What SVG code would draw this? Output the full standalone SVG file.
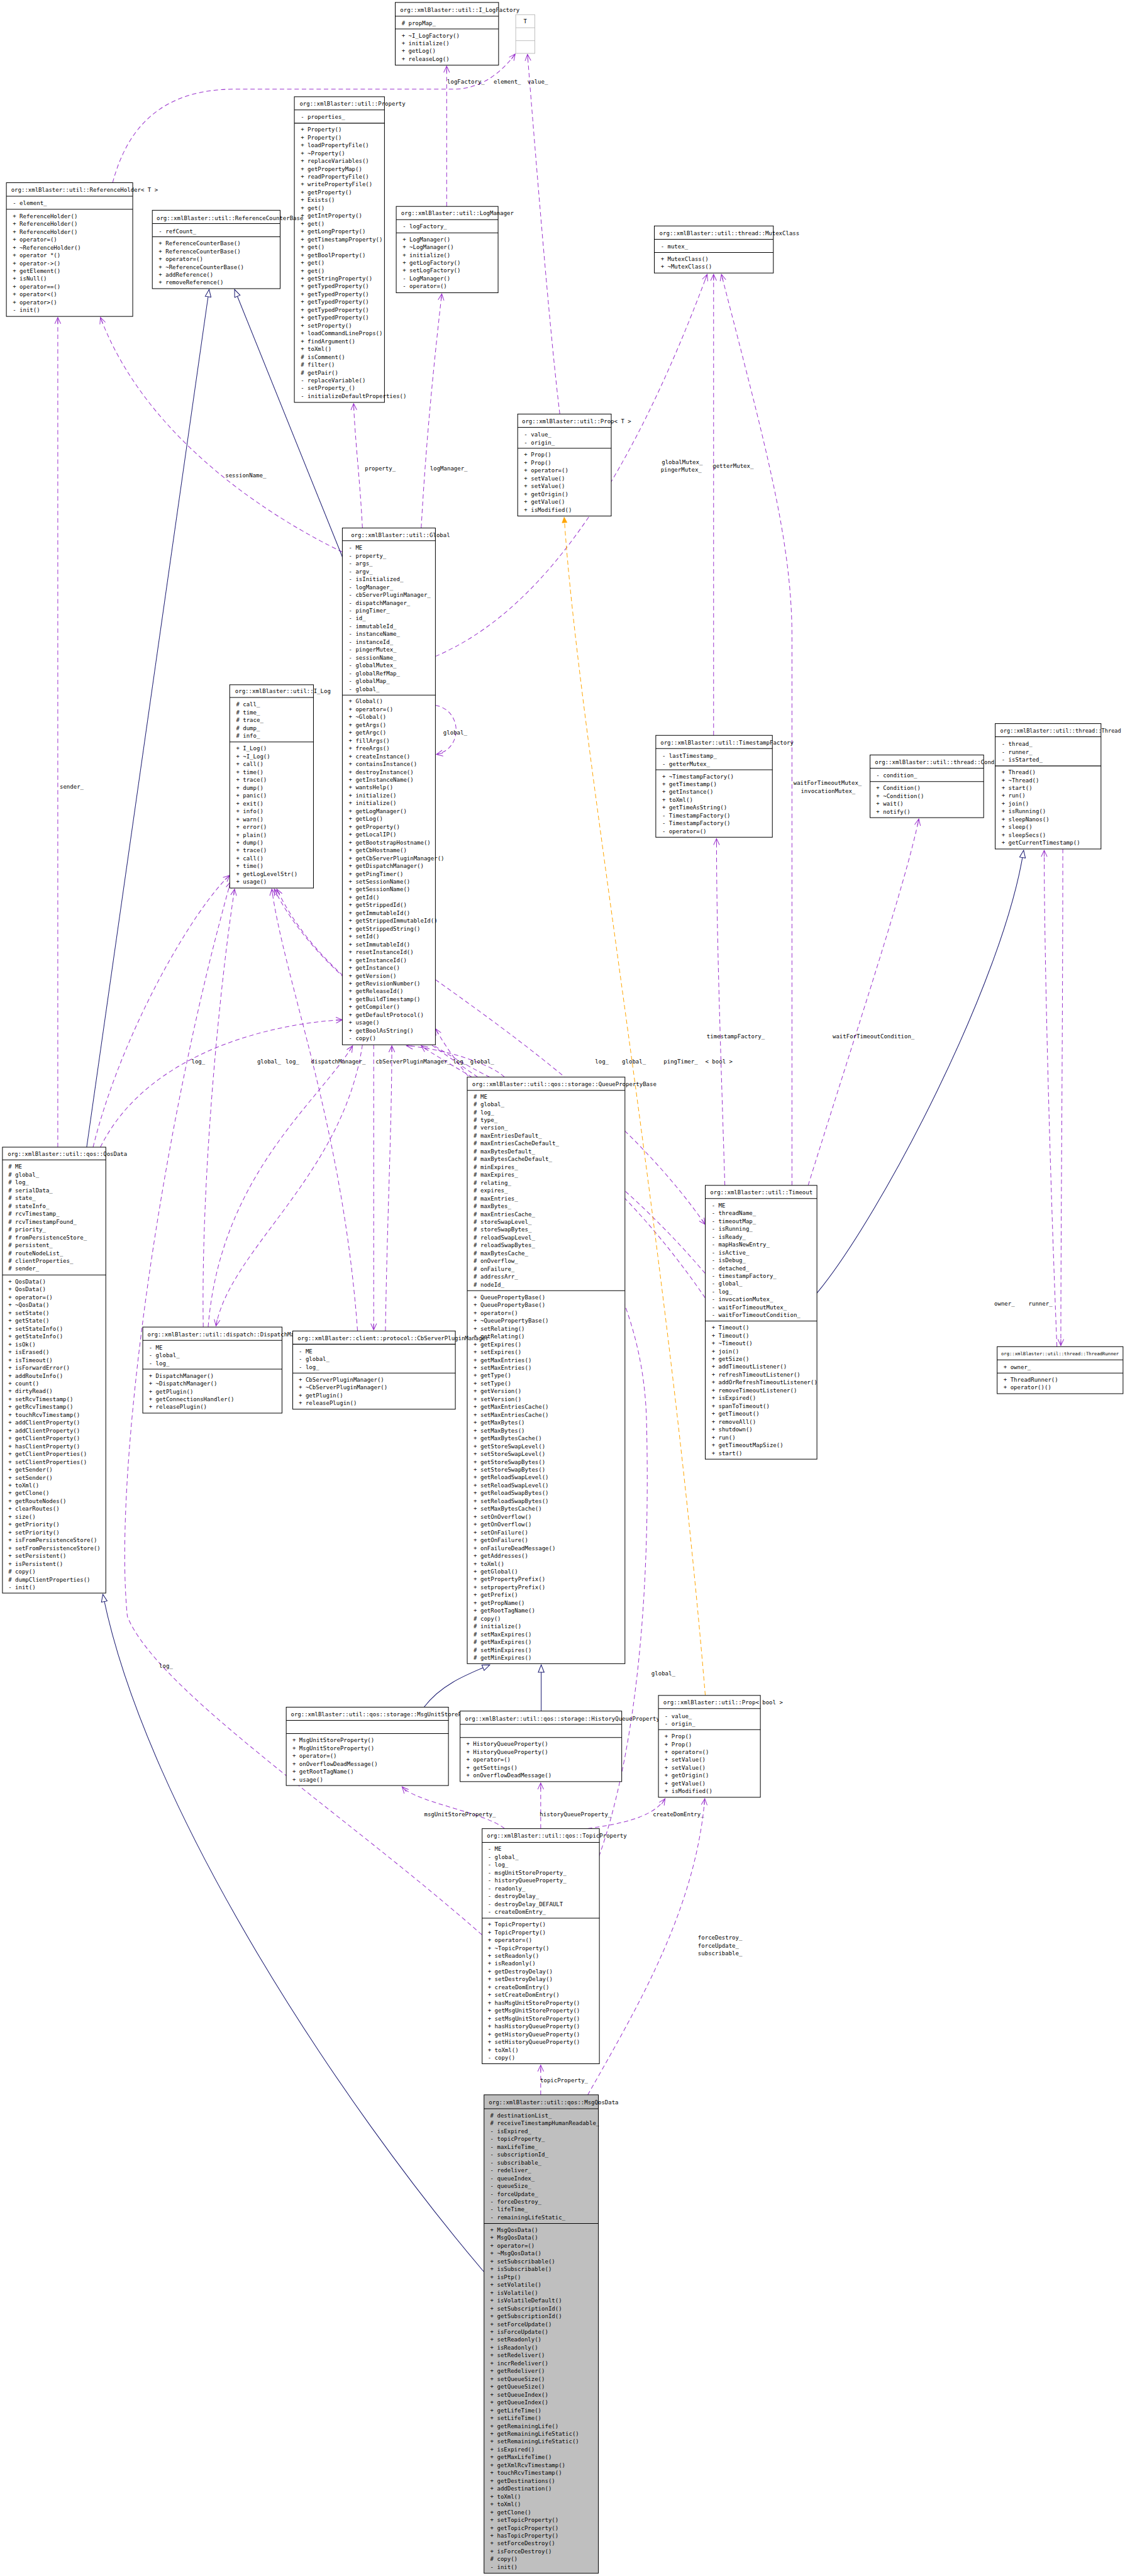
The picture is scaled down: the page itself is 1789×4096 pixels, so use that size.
<svg xmlns="http://www.w3.org/2000/svg" width="1789" height="4096" viewBox="0 0 1789 4096">
<style>
.box{fill:#fff;stroke:#000;stroke-width:1.3}
.gray{fill:#bfbfbf;stroke:#000;stroke-width:1.3}
.tbox{fill:#fff;stroke:#bfbfbf;stroke-width:1.3}
.sep{stroke:#000;stroke-width:1.3}
.tsep{stroke:#bfbfbf;stroke-width:1.3}
text{font-family:"DejaVu Sans Mono","Liberation Mono",monospace;font-size:11.6px;fill:#000}
.use{fill:none;stroke:#9a32cd;stroke-width:1.3;stroke-dasharray:9,6;marker-end:url(#vee)}
.inh{fill:none;stroke:#191970;stroke-width:1.3;marker-end:url(#tri)}
.tpl{fill:none;stroke:#ffa500;stroke-width:1.3;stroke-dasharray:9,6;marker-end:url(#otri)}
</style>
<defs>
<marker id="vee" markerUnits="userSpaceOnUse" markerWidth="16" markerHeight="14" refX="14" refY="7" orient="auto"><path d="M1,1 L14,7 L1,13 M1,7 L14,7" fill="none" stroke="#9a32cd" stroke-width="1.3"/></marker>
<marker id="tri" markerUnits="userSpaceOnUse" markerWidth="18" markerHeight="14" refX="16" refY="7" orient="auto"><path d="M1,1 L16,7 L1,13 Z" fill="#fff" stroke="#191970" stroke-width="1.3"/></marker>
<marker id="otri" markerUnits="userSpaceOnUse" markerWidth="14" markerHeight="12" refX="12" refY="6" orient="auto"><path d="M1,1 L12,6 L1,11 Z" fill="#ffa500" stroke="#ffa500"/></marker>
</defs>
<rect width="1789" height="4096" fill="#fff"/>
<g transform="scale(0.77884)">
<g id="connectors">
<path class="use" d="M912,421 L912,135"/>
<path class="use" d="M230,373 C260,260 330,182 480,182 L930,182 C990,180 1030,140 1052,110"/>
<path class="use" d="M1143,845 C1125,700 1100,400 1077,111"/>
<path class="use" d="M860,1078 C870,900 885,750 902,600"/>
<path class="use" d="M740,1078 C735,980 725,900 722,824"/>
<path class="use" d="M699,1127 C560,1060 300,900 205,648"/>
<path class="use" d="M118,2342 L118,648"/>
<path class="use" d="M889,1340 C1100,1250 1280,1000 1444,560"/>
<path class="use" d="M1457,1501 L1457,560"/>
<path class="use" d="M1617,2420 L1617,1300 C1617,1100 1560,900 1473,560"/>
<path class="use" d="M1480,2420 C1470,2100 1463,1900 1463,1712"/>
<path class="use" d="M1650,2420 C1750,2100 1850,1800 1876,1672"/>
<path class="use" d="M2158,2749 C2140,2300 2132,1900 2132,1736"/>
<path class="use" d="M2170,1733 C2170,2100 2166,2500 2166,2747"/>
<path class="use" d="M889,2000 C1100,2150 1300,2300 1440,2500"/>
<path class="use" d="M889,1440 C945,1450 945,1530 891,1540"/>
<path class="use" d="M190,2342 C250,2100 400,1850 469,1787"/>
<path class="use" d="M205,2342 C300,2150 550,2090 699,2082"/>
<path class="use" d="M415,2709 C410,2400 450,2000 479,1815"/>
<path class="use" d="M425,2709 C450,2400 650,2250 720,2135"/>
<path class="use" d="M740,2133 C700,2400 470,2550 441,2707"/>
<path class="use" d="M730,2717 C700,2300 580,2000 555,1815"/>
<path class="use" d="M787,2717 C790,2500 800,2300 800,2135"/>
<path class="use" d="M763,2133 L763,2715"/>
<path class="use" d="M1000,2199 C900,2150 650,2000 560,1815"/>
<path class="use" d="M1030,2199 C1000,2170 900,2140 830,2135"/>
<path class="use" d="M1440,2600 C1100,2200 700,2100 565,1815"/>
<path class="use" d="M1440,2650 C1200,2300 950,2200 860,2135"/>
<path class="use" d="M984,3950 C700,3700 320,3450 260,3300 C230,3000 330,2300 471,1800"/>
<path class="use" d="M1223,3790 C1290,3600 1330,3300 1320,2900 C1310,2500 1000,2300 889,2100"/>
<path class="use" d="M1030,3733 C990,3700 850,3680 821,3648"/>
<path class="use" d="M1104,3733 L1104,3640"/>
<path class="use" d="M1200,3733 C1300,3720 1340,3700 1358,3672"/>
<path class="use" d="M1200,4277 C1300,4100 1420,3900 1439,3672"/>
<path class="use" d="M1104,4277 L1104,4216"/>
<path class="tpl" d="M1440,3461 C1360,2500 1180,1500 1152,1056"/>
<path class="inh" d="M177,2342 L427,591"/>
<path class="inh" d="M699,1137 L479,591"/>
<path class="inh" d="M988,4638 C700,4300 300,3700 210,3255"/>
<path class="inh" d="M866,3485 C900,3440 950,3420 1000,3399"/>
<path class="inh" d="M1105,3493 L1105,3399"/>
<path class="inh" d="M1668,2640 C1800,2480 2050,2000 2090,1736"/>
<text x="913" y="171">logFactory_</text>
<text x="1008" y="171">element_</text>
<text x="1077" y="171">value_</text>
<text x="745" y="960">property_</text>
<text x="878" y="960">logManager_</text>
<text x="460" y="975">sessionName_</text>
<text x="122" y="1610">sender_</text>
<text x="1351" y="947">globalMutex_</text>
<text x="1349" y="963">pingerMutex_</text>
<text x="1455" y="955">getterMutex_</text>
<text x="1620" y="1603">waitForTimeoutMutex_</text>
<text x="1635" y="1619">invocationMutex_</text>
<text x="905" y="1500">global_</text>
<text x="391" y="2171">log_</text>
<text x="525" y="2171">global_</text>
<text x="583" y="2171">log_</text>
<text x="635" y="2171">dispatchManager_</text>
<text x="767" y="2171">cbServerPluginManager_</text>
<text x="925" y="2171">log_</text>
<text x="960" y="2171">global_</text>
<text x="1215" y="2171">log_</text>
<text x="1270" y="2171">global_</text>
<text x="1355" y="2171">pingTimer_</text>
<text x="1440" y="2171">&lt; bool &gt;</text>
<text x="1443" y="2120">timestampFactory_</text>
<text x="1700" y="2120">waitForTimeoutCondition_</text>
<text x="2030" y="2665">owner_</text>
<text x="2100" y="2665">runner_</text>
<text x="866" y="3708">msgUnitStoreProperty_</text>
<text x="1102" y="3708">historyQueueProperty_</text>
<text x="1333" y="3708">createDomEntry_</text>
<text x="325" y="3405">log_</text>
<text x="1330" y="3420">global_</text>
<text x="1425" y="3960">forceDestroy_</text>
<text x="1425" y="3976">forceUpdate_</text>
<text x="1425" y="3992">subscribable_</text>
<text x="1103" y="4251">topicProperty_</text>
</g>

<g id="n_ilogfactory">
<rect class="box" x="807" y="5" width="211" height="128"/>
<line class="sep" x1="807" y1="33" x2="1018" y2="33"/><line class="sep" x1="807" y1="59" x2="1018" y2="59"/>
<text x="817" y="24">org::xmlBlaster::util::I_LogFactory</text>
<text x="820" y="51"># propMap_</text>
<text><tspan x="820" y="76.5">+ ~I_LogFactory()</tspan><tspan x="820" dy="16">+ initialize()</tspan><tspan x="820" dy="16">+ getLog()</tspan><tspan x="820" dy="16">+ releaseLog()</tspan></text>
</g>

<g id="n_T">
<rect class="tbox" x="1053" y="30" width="39" height="79"/>
<line class="tsep" x1="1053" y1="56.6" x2="1092" y2="56.6"/><line class="tsep" x1="1053" y1="83" x2="1092" y2="83"/>
<text x="1072.5" y="48" text-anchor="middle">T</text>
</g>

<g id="n_property">
<rect class="box" x="601" y="197.5" width="184" height="624"/>
<line class="sep" x1="601" y1="224.5" x2="785" y2="224.5"/><line class="sep" x1="601" y1="251.5" x2="785" y2="251.5"/>
<text x="611.7" y="216">org::xmlBlaster::util::Property</text>
<text x="614" y="243.3">- properties_</text>
<text><tspan x="614" y="268.7">+ Property()</tspan><tspan x="614" dy="16">+ Property()</tspan><tspan x="614" dy="16">+ loadPropertyFile()</tspan><tspan x="614" dy="16">+ ~Property()</tspan><tspan x="614" dy="16">+ replaceVariables()</tspan><tspan x="614" dy="16">+ getPropertyMap()</tspan><tspan x="614" dy="16">+ readPropertyFile()</tspan><tspan x="614" dy="16">+ writePropertyFile()</tspan><tspan x="614" dy="16">+ getProperty()</tspan><tspan x="614" dy="16">+ Exists()</tspan><tspan x="614" dy="16">+ get()</tspan><tspan x="614" dy="16">+ getIntProperty()</tspan><tspan x="614" dy="16">+ get()</tspan><tspan x="614" dy="16">+ getLongProperty()</tspan><tspan x="614" dy="16">+ getTimestampProperty()</tspan><tspan x="614" dy="16">+ get()</tspan><tspan x="614" dy="16">+ getBoolProperty()</tspan><tspan x="614" dy="16">+ get()</tspan><tspan x="614" dy="16">+ get()</tspan><tspan x="614" dy="16">+ getStringProperty()</tspan><tspan x="614" dy="16">+ getTypedProperty()</tspan><tspan x="614" dy="16">+ getTypedProperty()</tspan><tspan x="614" dy="16">+ getTypedProperty()</tspan><tspan x="614" dy="16">+ getTypedProperty()</tspan><tspan x="614" dy="16">+ getTypedProperty()</tspan><tspan x="614" dy="16">+ setProperty()</tspan><tspan x="614" dy="16">+ loadCommandLineProps()</tspan><tspan x="614" dy="16">+ findArgument()</tspan><tspan x="614" dy="16">+ toXml()</tspan><tspan x="614" dy="16"># isComment()</tspan><tspan x="614" dy="16"># filter()</tspan><tspan x="614" dy="16"># getPair()</tspan><tspan x="614" dy="16">- replaceVariable()</tspan><tspan x="614" dy="16">- setProperty_()</tspan><tspan x="614" dy="16">- initializeDefaultProperties()</tspan></text>
</g>

<g id="n_logmanager">
<rect class="box" x="809" y="421.4" width="208" height="176.3"/>
<line class="sep" x1="809" y1="448.4" x2="1017" y2="448.4"/><line class="sep" x1="809" y1="475.4" x2="1017" y2="475.4"/>
<text x="819" y="439.7">org::xmlBlaster::util::LogManager</text>
<text x="822" y="466.7">- logFactory_</text>
<text><tspan x="822" y="492.6">+ LogManager()</tspan><tspan x="822" dy="16">+ ~LogManager()</tspan><tspan x="822" dy="16">+ initialize()</tspan><tspan x="822" dy="16">+ getLogFactory()</tspan><tspan x="822" dy="16">+ setLogFactory()</tspan><tspan x="822" dy="16">- LogManager()</tspan><tspan x="822" dy="16">- operator=()</tspan></text>
</g>

<g id="n_referenceholder">
<rect class="box" x="13" y="373" width="258" height="273"/>
<line class="sep" x1="13" y1="400.7" x2="271" y2="400.7"/><line class="sep" x1="13" y1="427.3" x2="271" y2="427.3"/>
<text x="22.7" y="391.3">org::xmlBlaster::util::ReferenceHolder&lt; T &gt;</text>
<text x="26" y="419">- element_</text>
<text><tspan x="26" y="445.3">+ ReferenceHolder()</tspan><tspan x="26" dy="16">+ ReferenceHolder()</tspan><tspan x="26" dy="16">+ ReferenceHolder()</tspan><tspan x="26" dy="16">+ operator=()</tspan><tspan x="26" dy="16">+ ~ReferenceHolder()</tspan><tspan x="26" dy="16">+ operator *()</tspan><tspan x="26" dy="16">+ operator-&gt;()</tspan><tspan x="26" dy="16">+ getElement()</tspan><tspan x="26" dy="16">+ isNull()</tspan><tspan x="26" dy="16">+ operator==()</tspan><tspan x="26" dy="16">+ operator&lt;()</tspan><tspan x="26" dy="16">+ operator&gt;()</tspan><tspan x="26" dy="16">- init()</tspan></text>
</g>

<g id="n_refcounterbase">
<rect class="box" x="311" y="429.3" width="261" height="160"/>
<line class="sep" x1="311" y1="456.3" x2="572" y2="456.3"/><line class="sep" x1="311" y1="483.3" x2="572" y2="483.3"/>
<text x="319.7" y="449">org::xmlBlaster::util::ReferenceCounterBase</text>
<text x="324" y="476">- refCount_</text>
<text><tspan x="324" y="501">+ ReferenceCounterBase()</tspan><tspan x="324" dy="16">+ ReferenceCounterBase()</tspan><tspan x="324" dy="16">+ operator=()</tspan><tspan x="324" dy="16">+ ~ReferenceCounterBase()</tspan><tspan x="324" dy="16">+ addReference()</tspan><tspan x="324" dy="16">+ removeReference()</tspan></text>
</g>

<g id="n_mutexclass">
<rect class="box" x="1336" y="461.3" width="243" height="96.1"/>
<line class="sep" x1="1336" y1="488.5" x2="1579" y2="488.5"/><line class="sep" x1="1336" y1="515.4" x2="1579" y2="515.4"/>
<text x="1346.4" y="480">org::xmlBlaster::util::thread::MutexClass</text>
<text x="1349" y="507.3">- mutex_</text>
<text><tspan x="1349" y="532.6">+ MutexClass()</tspan><tspan x="1349" dy="16">+ ~MutexClass()</tspan></text>
</g>

<g id="n_propT">
<rect class="box" x="1057" y="845.3" width="191" height="208.2"/>
<line class="sep" x1="1057" y1="872.6" x2="1248" y2="872.6"/><line class="sep" x1="1057" y1="915" x2="1248" y2="915"/>
<text x="1065.7" y="863.7">org::xmlBlaster::util::Prop&lt; T &gt;</text>
<text><tspan x="1070" y="891.4">- value_</tspan><tspan x="1070" dy="16">- origin_</tspan></text>
<text><tspan x="1070" y="932.6">+ Prop()</tspan><tspan x="1070" dy="16">+ Prop()</tspan><tspan x="1070" dy="16">+ operator=()</tspan><tspan x="1070" dy="16">+ setValue()</tspan><tspan x="1070" dy="16">+ setValue()</tspan><tspan x="1070" dy="16">+ getOrigin()</tspan><tspan x="1070" dy="16">+ getValue()</tspan><tspan x="1070" dy="16">+ isModified()</tspan></text>
</g>

<g id="n_global">
<rect class="box" x="699" y="1078" width="190" height="1055"/>
<line class="sep" x1="699" y1="1104" x2="889" y2="1104"/><line class="sep" x1="699" y1="1419" x2="889" y2="1419"/>
<text x="716.7" y="1096">org::xmlBlaster::util::Global</text>
<text><tspan x="712" y="1122.6">- ME</tspan><tspan x="712" dy="16">- property_</tspan><tspan x="712" dy="16">- args_</tspan><tspan x="712" dy="16">- argv_</tspan><tspan x="712" dy="16">- isInitialized_</tspan><tspan x="712" dy="16">- logManager_</tspan><tspan x="712" dy="16">- cbServerPluginManager_</tspan><tspan x="712" dy="16">- dispatchManager_</tspan><tspan x="712" dy="16">- pingTimer_</tspan><tspan x="712" dy="16">- id_</tspan><tspan x="712" dy="16">- immutableId_</tspan><tspan x="712" dy="16">- instanceName_</tspan><tspan x="712" dy="16">- instanceId_</tspan><tspan x="712" dy="16">- pingerMutex_</tspan><tspan x="712" dy="16">- sessionName_</tspan><tspan x="712" dy="16">- globalMutex_</tspan><tspan x="712" dy="16">- globalRefMap_</tspan><tspan x="712" dy="16">- globalMap_</tspan><tspan x="712" dy="16">- global_</tspan></text>
<text><tspan x="712" y="1436">+ Global()</tspan><tspan x="712" dy="16">+ operator=()</tspan><tspan x="712" dy="16">+ ~Global()</tspan><tspan x="712" dy="16">+ getArgs()</tspan><tspan x="712" dy="16">+ getArgc()</tspan><tspan x="712" dy="16">+ fillArgs()</tspan><tspan x="712" dy="16">+ freeArgs()</tspan><tspan x="712" dy="16">+ createInstance()</tspan><tspan x="712" dy="16">+ containsInstance()</tspan><tspan x="712" dy="16">+ destroyInstance()</tspan><tspan x="712" dy="16">+ getInstanceName()</tspan><tspan x="712" dy="16">+ wantsHelp()</tspan><tspan x="712" dy="16">+ initialize()</tspan><tspan x="712" dy="16">+ initialize()</tspan><tspan x="712" dy="16">+ getLogManager()</tspan><tspan x="712" dy="16">+ getLog()</tspan><tspan x="712" dy="16">+ getProperty()</tspan><tspan x="712" dy="16">+ getLocalIP()</tspan><tspan x="712" dy="16">+ getBootstrapHostname()</tspan><tspan x="712" dy="16">+ getCbHostname()</tspan><tspan x="712" dy="16">+ getCbServerPluginManager()</tspan><tspan x="712" dy="16">+ getDispatchManager()</tspan><tspan x="712" dy="16">+ getPingTimer()</tspan><tspan x="712" dy="16">+ setSessionName()</tspan><tspan x="712" dy="16">+ getSessionName()</tspan><tspan x="712" dy="16">+ getId()</tspan><tspan x="712" dy="16">+ getStrippedId()</tspan><tspan x="712" dy="16">+ getImmutableId()</tspan><tspan x="712" dy="16">+ getStrippedImmutableId()</tspan><tspan x="712" dy="16">+ getStrippedString()</tspan><tspan x="712" dy="16">+ setId()</tspan><tspan x="712" dy="16">+ setImmutableId()</tspan><tspan x="712" dy="16">+ resetInstanceId()</tspan><tspan x="712" dy="16">+ getInstanceId()</tspan><tspan x="712" dy="16">+ getInstance()</tspan><tspan x="712" dy="16">+ getVersion()</tspan><tspan x="712" dy="16">+ getRevisionNumber()</tspan><tspan x="712" dy="16">+ getReleaseId()</tspan><tspan x="712" dy="16">+ getBuildTimestamp()</tspan><tspan x="712" dy="16">+ getCompiler()</tspan><tspan x="712" dy="16">+ getDefaultProtocol()</tspan><tspan x="712" dy="16">+ usage()</tspan><tspan x="712" dy="16">+ getBoolAsString()</tspan><tspan x="712" dy="16">- copy()</tspan></text>
</g>

<g id="n_ilog">
<rect class="box" x="469" y="1398" width="171" height="415"/>
<line class="sep" x1="469" y1="1424" x2="640" y2="1424"/><line class="sep" x1="469" y1="1514.7" x2="640" y2="1514.7"/>
<text x="480" y="1415">org::xmlBlaster::util::I_Log</text>
<text><tspan x="482" y="1442.5"># call_</tspan><tspan x="482" dy="16"># time_</tspan><tspan x="482" dy="16"># trace_</tspan><tspan x="482" dy="16"># dump_</tspan><tspan x="482" dy="16"># info_</tspan></text>
<text><tspan x="482" y="1532.4">+ I_Log()</tspan><tspan x="482" dy="16">+ ~I_Log()</tspan><tspan x="482" dy="16">+ call()</tspan><tspan x="482" dy="16">+ time()</tspan><tspan x="482" dy="16">+ trace()</tspan><tspan x="482" dy="16">+ dump()</tspan><tspan x="482" dy="16">+ panic()</tspan><tspan x="482" dy="16">+ exit()</tspan><tspan x="482" dy="16">+ info()</tspan><tspan x="482" dy="16">+ warn()</tspan><tspan x="482" dy="16">+ error()</tspan><tspan x="482" dy="16">+ plain()</tspan><tspan x="482" dy="16">+ dump()</tspan><tspan x="482" dy="16">+ trace()</tspan><tspan x="482" dy="16">+ call()</tspan><tspan x="482" dy="16">+ time()</tspan><tspan x="482" dy="16">+ getLogLevelStr()</tspan><tspan x="482" dy="16">+ usage()</tspan></text>
</g>

<g id="n_timestampfactory">
<rect class="box" x="1339" y="1501.3" width="238" height="208"/>
<line class="sep" x1="1339" y1="1528.3" x2="1577" y2="1528.3"/><line class="sep" x1="1339" y1="1571.7" x2="1577" y2="1571.7"/>
<text x="1348.5" y="1520.3">org::xmlBlaster::util::TimestampFactory</text>
<text><tspan x="1352" y="1547.3">- lastTimestamp_</tspan><tspan x="1352" dy="16">- getterMutex_</tspan></text>
<text><tspan x="1352" y="1589">+ ~TimestampFactory()</tspan><tspan x="1352" dy="16">+ getTimestamp()</tspan><tspan x="1352" dy="16">+ getInstance()</tspan><tspan x="1352" dy="16">+ toXml()</tspan><tspan x="1352" dy="16">+ getTimeAsString()</tspan><tspan x="1352" dy="16">- TimestampFactory()</tspan><tspan x="1352" dy="16">- TimestampFactory()</tspan><tspan x="1352" dy="16">- operator=()</tspan></text>
</g>

<g id="n_condition">
<rect class="box" x="1776.5" y="1541.3" width="231.9" height="128"/>
<line class="sep" x1="1776.5" y1="1568.3" x2="2008.4" y2="1568.3"/><line class="sep" x1="1776.5" y1="1595.7" x2="2008.4" y2="1595.7"/>
<text x="1786.4" y="1560">org::xmlBlaster::util::thread::Condition</text>
<text x="1789" y="1587.3">- condition_</text>
<text><tspan x="1789" y="1613">+ Condition()</tspan><tspan x="1789" dy="16">+ ~Condition()</tspan><tspan x="1789" dy="16">+ wait()</tspan><tspan x="1789" dy="16">+ notify()</tspan></text>
</g>

<g id="n_thread">
<rect class="box" x="2032" y="1477.3" width="216" height="256"/>
<line class="sep" x1="2032" y1="1504.3" x2="2248" y2="1504.3"/><line class="sep" x1="2032" y1="1563.7" x2="2248" y2="1563.7"/>
<text x="2042.3" y="1496" style="font-size:11.1px">org::xmlBlaster::util::thread::Thread</text>
<text><tspan x="2045" y="1523">- thread_</tspan><tspan x="2045" dy="16">- runner_</tspan><tspan x="2045" dy="16">- isStarted_</tspan></text>
<text><tspan x="2045" y="1580.7">+ Thread()</tspan><tspan x="2045" dy="16">+ ~Thread()</tspan><tspan x="2045" dy="16">+ start()</tspan><tspan x="2045" dy="16">+ run()</tspan><tspan x="2045" dy="16">+ join()</tspan><tspan x="2045" dy="16">+ isRunning()</tspan><tspan x="2045" dy="16">+ sleepNanos()</tspan><tspan x="2045" dy="16">+ sleep()</tspan><tspan x="2045" dy="16">+ sleepSecs()</tspan><tspan x="2045" dy="16">+ getCurrentTimestamp()</tspan></text>
</g>

<g id="n_qosdata">
<rect class="box" x="5" y="2342" width="211" height="910.4"/>
<line class="sep" x1="5" y1="2368" x2="216" y2="2368"/><line class="sep" x1="5" y1="2603" x2="216" y2="2603"/>
<text x="15.7" y="2359.4">org::xmlBlaster::util::qos::QosData</text>
<text><tspan x="17" y="2386.2"># ME</tspan><tspan x="17" dy="16"># global_</tspan><tspan x="17" dy="16"># log_</tspan><tspan x="17" dy="16"># serialData_</tspan><tspan x="17" dy="16"># state_</tspan><tspan x="17" dy="16"># stateInfo_</tspan><tspan x="17" dy="16"># rcvTimestamp_</tspan><tspan x="17" dy="16"># rcvTimestampFound_</tspan><tspan x="17" dy="16"># priority_</tspan><tspan x="17" dy="16"># fromPersistenceStore_</tspan><tspan x="17" dy="16"># persistent_</tspan><tspan x="17" dy="16"># routeNodeList_</tspan><tspan x="17" dy="16"># clientProperties_</tspan><tspan x="17" dy="16"># sender_</tspan></text>
<text><tspan x="17" y="2620.6">+ QosData()</tspan><tspan x="17" dy="16">+ QosData()</tspan><tspan x="17" dy="16">+ operator=()</tspan><tspan x="17" dy="16">+ ~QosData()</tspan><tspan x="17" dy="16">+ setState()</tspan><tspan x="17" dy="16">+ getState()</tspan><tspan x="17" dy="16">+ setStateInfo()</tspan><tspan x="17" dy="16">+ getStateInfo()</tspan><tspan x="17" dy="16">+ isOk()</tspan><tspan x="17" dy="16">+ isErased()</tspan><tspan x="17" dy="16">+ isTimeout()</tspan><tspan x="17" dy="16">+ isForwardError()</tspan><tspan x="17" dy="16">+ addRouteInfo()</tspan><tspan x="17" dy="16">+ count()</tspan><tspan x="17" dy="16">+ dirtyRead()</tspan><tspan x="17" dy="16">+ setRcvTimestamp()</tspan><tspan x="17" dy="16">+ getRcvTimestamp()</tspan><tspan x="17" dy="16">+ touchRcvTimestamp()</tspan><tspan x="17" dy="16">+ addClientProperty()</tspan><tspan x="17" dy="16">+ addClientProperty()</tspan><tspan x="17" dy="16">+ getClientProperty()</tspan><tspan x="17" dy="16">+ hasClientProperty()</tspan><tspan x="17" dy="16">+ getClientProperties()</tspan><tspan x="17" dy="16">+ setClientProperties()</tspan><tspan x="17" dy="16">+ getSender()</tspan><tspan x="17" dy="16">+ setSender()</tspan><tspan x="17" dy="16">+ toXml()</tspan><tspan x="17" dy="16">+ getClone()</tspan><tspan x="17" dy="16">+ getRouteNodes()</tspan><tspan x="17" dy="16">+ clearRoutes()</tspan><tspan x="17" dy="16">+ size()</tspan><tspan x="17" dy="16">+ getPriority()</tspan><tspan x="17" dy="16">+ setPriority()</tspan><tspan x="17" dy="16">+ isFromPersistenceStore()</tspan><tspan x="17" dy="16">+ setFromPersistenceStore()</tspan><tspan x="17" dy="16">+ setPersistent()</tspan><tspan x="17" dy="16">+ isPersistent()</tspan><tspan x="17" dy="16"># copy()</tspan><tspan x="17" dy="16"># dumpClientProperties()</tspan><tspan x="17" dy="16">- init()</tspan></text>
</g>

<g id="n_queuepropertybase">
<rect class="box" x="954" y="2199" width="322" height="1197.5"/>
<line class="sep" x1="954" y1="2226" x2="1276" y2="2226"/><line class="sep" x1="954" y1="2635.1" x2="1276" y2="2635.1"/>
<text x="964" y="2217">org::xmlBlaster::util::qos::storage::QueuePropertyBase</text>
<text><tspan x="967" y="2242.6"># ME</tspan><tspan x="967" dy="16"># global_</tspan><tspan x="967" dy="16"># log_</tspan><tspan x="967" dy="16"># type_</tspan><tspan x="967" dy="16"># version_</tspan><tspan x="967" dy="16"># maxEntriesDefault_</tspan><tspan x="967" dy="16"># maxEntriesCacheDefault_</tspan><tspan x="967" dy="16"># maxBytesDefault_</tspan><tspan x="967" dy="16"># maxBytesCacheDefault_</tspan><tspan x="967" dy="16"># minExpires_</tspan><tspan x="967" dy="16"># maxExpires_</tspan><tspan x="967" dy="16"># relating_</tspan><tspan x="967" dy="16"># expires_</tspan><tspan x="967" dy="16"># maxEntries_</tspan><tspan x="967" dy="16"># maxBytes_</tspan><tspan x="967" dy="16"># maxEntriesCache_</tspan><tspan x="967" dy="16"># storeSwapLevel_</tspan><tspan x="967" dy="16"># storeSwapBytes_</tspan><tspan x="967" dy="16"># reloadSwapLevel_</tspan><tspan x="967" dy="16"># reloadSwapBytes_</tspan><tspan x="967" dy="16"># maxBytesCache_</tspan><tspan x="967" dy="16"># onOverflow_</tspan><tspan x="967" dy="16"># onFailure_</tspan><tspan x="967" dy="16"># addressArr_</tspan><tspan x="967" dy="16"># nodeId_</tspan></text>
<text><tspan x="967" y="2652.5">+ QueuePropertyBase()</tspan><tspan x="967" dy="16">+ QueuePropertyBase()</tspan><tspan x="967" dy="16">+ operator=()</tspan><tspan x="967" dy="16">+ ~QueuePropertyBase()</tspan><tspan x="967" dy="16">+ setRelating()</tspan><tspan x="967" dy="16">+ getRelating()</tspan><tspan x="967" dy="16">+ getExpires()</tspan><tspan x="967" dy="16">+ setExpires()</tspan><tspan x="967" dy="16">+ getMaxEntries()</tspan><tspan x="967" dy="16">+ setMaxEntries()</tspan><tspan x="967" dy="16">+ getType()</tspan><tspan x="967" dy="16">+ setType()</tspan><tspan x="967" dy="16">+ getVersion()</tspan><tspan x="967" dy="16">+ setVersion()</tspan><tspan x="967" dy="16">+ getMaxEntriesCache()</tspan><tspan x="967" dy="16">+ setMaxEntriesCache()</tspan><tspan x="967" dy="16">+ getMaxBytes()</tspan><tspan x="967" dy="16">+ setMaxBytes()</tspan><tspan x="967" dy="16">+ getMaxBytesCache()</tspan><tspan x="967" dy="16">+ getStoreSwapLevel()</tspan><tspan x="967" dy="16">+ setStoreSwapLevel()</tspan><tspan x="967" dy="16">+ getStoreSwapBytes()</tspan><tspan x="967" dy="16">+ setStoreSwapBytes()</tspan><tspan x="967" dy="16">+ getReloadSwapLevel()</tspan><tspan x="967" dy="16">+ setReloadSwapLevel()</tspan><tspan x="967" dy="16">+ getReloadSwapBytes()</tspan><tspan x="967" dy="16">+ setReloadSwapBytes()</tspan><tspan x="967" dy="16">+ setMaxBytesCache()</tspan><tspan x="967" dy="16">+ setOnOverflow()</tspan><tspan x="967" dy="16">+ getOnOverflow()</tspan><tspan x="967" dy="16">+ setOnFailure()</tspan><tspan x="967" dy="16">+ getOnFailure()</tspan><tspan x="967" dy="16">+ onFailureDeadMessage()</tspan><tspan x="967" dy="16">+ getAddresses()</tspan><tspan x="967" dy="16">+ toXml()</tspan><tspan x="967" dy="16">+ getGlobal()</tspan><tspan x="967" dy="16">+ getPropertyPrefix()</tspan><tspan x="967" dy="16">+ setpropertyPrefix()</tspan><tspan x="967" dy="16">+ getPrefix()</tspan><tspan x="967" dy="16">+ getPropName()</tspan><tspan x="967" dy="16">+ getRootTagName()</tspan><tspan x="967" dy="16"># copy()</tspan><tspan x="967" dy="16"># initialize()</tspan><tspan x="967" dy="16"># setMaxExpires()</tspan><tspan x="967" dy="16"># getMaxExpires()</tspan><tspan x="967" dy="16"># setMinExpires()</tspan><tspan x="967" dy="16"># getMinExpires()</tspan></text>
</g>

<g id="n_timeout">
<rect class="box" x="1440" y="2420" width="228" height="559"/>
<line class="sep" x1="1440" y1="2447" x2="1668" y2="2447"/><line class="sep" x1="1440" y1="2697" x2="1668" y2="2697"/>
<text x="1450" y="2438.5">org::xmlBlaster::util::Timeout</text>
<text><tspan x="1453" y="2465">- ME</tspan><tspan x="1453" dy="16">- threadName_</tspan><tspan x="1453" dy="16">- timeoutMap_</tspan><tspan x="1453" dy="16">- isRunning_</tspan><tspan x="1453" dy="16">- isReady_</tspan><tspan x="1453" dy="16">- mapHasNewEntry_</tspan><tspan x="1453" dy="16">- isActive_</tspan><tspan x="1453" dy="16">- isDebug_</tspan><tspan x="1453" dy="16">- detached_</tspan><tspan x="1453" dy="16">- timestampFactory_</tspan><tspan x="1453" dy="16">- global_</tspan><tspan x="1453" dy="16">- log_</tspan><tspan x="1453" dy="16">- invocationMutex_</tspan><tspan x="1453" dy="16">- waitForTimeoutMutex_</tspan><tspan x="1453" dy="16">- waitForTimeoutCondition_</tspan></text>
<text><tspan x="1453" y="2714.5">+ Timeout()</tspan><tspan x="1453" dy="16">+ Timeout()</tspan><tspan x="1453" dy="16">+ ~Timeout()</tspan><tspan x="1453" dy="16">+ join()</tspan><tspan x="1453" dy="16">+ getSize()</tspan><tspan x="1453" dy="16">+ addTimeoutListener()</tspan><tspan x="1453" dy="16">+ refreshTimeoutListener()</tspan><tspan x="1453" dy="16">+ addOrRefreshTimeoutListener()</tspan><tspan x="1453" dy="16">+ removeTimeoutListener()</tspan><tspan x="1453" dy="16">+ isExpired()</tspan><tspan x="1453" dy="16">+ spanToTimeout()</tspan><tspan x="1453" dy="16">+ getTimeout()</tspan><tspan x="1453" dy="16">+ removeAll()</tspan><tspan x="1453" dy="16">+ shutdown()</tspan><tspan x="1453" dy="16">+ run()</tspan><tspan x="1453" dy="16">+ getTimeoutMapSize()</tspan><tspan x="1453" dy="16">+ start()</tspan></text>
</g>

<g id="n_threadrunner">
<rect class="box" x="2036" y="2749.3" width="257" height="96"/>
<line class="sep" x1="2036" y1="2776.3" x2="2293" y2="2776.3"/><line class="sep" x1="2036" y1="2803.3" x2="2293" y2="2803.3"/>
<text x="2044" y="2767" style="font-size:9.3px">org::xmlBlaster::util::thread::ThreadRunner</text>
<text x="2049" y="2795.3">+ owner_</text>
<text><tspan x="2049" y="2820.7">+ ThreadRunner()</tspan><tspan x="2049" dy="16">+ operator()()</tspan></text>
</g>

<g id="n_dispatchmanager">
<rect class="box" x="291.5" y="2709.3" width="284.3" height="175.7"/>
<line class="sep" x1="291.5" y1="2736.3" x2="575.8" y2="2736.3"/><line class="sep" x1="291.5" y1="2795.3" x2="575.8" y2="2795.3"/>
<text x="301.2" y="2728.3">org::xmlBlaster::util::dispatch::DispatchManager</text>
<text><tspan x="304" y="2755">- ME</tspan><tspan x="304" dy="16">- global_</tspan><tspan x="304" dy="16">- log_</tspan></text>
<text><tspan x="304" y="2812.7">+ DispatchManager()</tspan><tspan x="304" dy="16">+ ~DispatchManager()</tspan><tspan x="304" dy="16">+ getPlugin()</tspan><tspan x="304" dy="16">+ getConnectionsHandler()</tspan><tspan x="304" dy="16">+ releasePlugin()</tspan></text>
</g>

<g id="n_cbserverpluginmanager">
<rect class="box" x="597.7" y="2717.3" width="332" height="159.7"/>
<line class="sep" x1="597.7" y1="2744.3" x2="929.7" y2="2744.3"/><line class="sep" x1="597.7" y1="2803.3" x2="929.7" y2="2803.3"/>
<text x="607.8" y="2736.3">org::xmlBlaster::client::protocol::CbServerPluginManager</text>
<text><tspan x="610" y="2763">- ME</tspan><tspan x="610" dy="16">- global_</tspan><tspan x="610" dy="16">- log_</tspan></text>
<text><tspan x="610" y="2820.7">+ CbServerPluginManager()</tspan><tspan x="610" dy="16">+ ~CbServerPluginManager()</tspan><tspan x="610" dy="16">+ getPlugin()</tspan><tspan x="610" dy="16">+ releasePlugin()</tspan></text>
</g>

<g id="n_msgunitstoreproperty">
<rect class="box" x="584.4" y="3485.3" width="331.2" height="160"/>
<line class="sep" x1="584.4" y1="3512.3" x2="915.6" y2="3512.3"/><line class="sep" x1="584.4" y1="3539.3" x2="915.6" y2="3539.3"/>
<text x="593.8" y="3504.3">org::xmlBlaster::util::qos::storage::MsgUnitStoreProperty</text>
<text><tspan x="597" y="3557">+ MsgUnitStoreProperty()</tspan><tspan x="597" dy="16">+ MsgUnitStoreProperty()</tspan><tspan x="597" dy="16">+ operator=()</tspan><tspan x="597" dy="16">+ onOverflowDeadMessage()</tspan><tspan x="597" dy="16">+ getRootTagName()</tspan><tspan x="597" dy="16">+ usage()</tspan></text>
</g>

<g id="n_historyqueueproperty">
<rect class="box" x="939.4" y="3493.3" width="330" height="144"/>
<line class="sep" x1="939.4" y1="3520.3" x2="1269.4" y2="3520.3"/><line class="sep" x1="939.4" y1="3547.3" x2="1269.4" y2="3547.3"/>
<text x="949.4" y="3512.3">org::xmlBlaster::util::qos::storage::HistoryQueueProperty</text>
<text><tspan x="952" y="3564.7">+ HistoryQueueProperty()</tspan><tspan x="952" dy="16">+ HistoryQueueProperty()</tspan><tspan x="952" dy="16">+ operator=()</tspan><tspan x="952" dy="16">+ getSettings()</tspan><tspan x="952" dy="16">+ onOverflowDeadMessage()</tspan></text>
</g>

<g id="n_propbool">
<rect class="box" x="1344.4" y="3461.3" width="208.1" height="208"/>
<line class="sep" x1="1344.4" y1="3488.3" x2="1552.5" y2="3488.3"/><line class="sep" x1="1344.4" y1="3531.3" x2="1552.5" y2="3531.3"/>
<text x="1354.4" y="3480">org::xmlBlaster::util::Prop&lt; bool &gt;</text>
<text><tspan x="1357" y="3507.3">- value_</tspan><tspan x="1357" dy="16">- origin_</tspan></text>
<text><tspan x="1357" y="3549">+ Prop()</tspan><tspan x="1357" dy="16">+ Prop()</tspan><tspan x="1357" dy="16">+ operator=()</tspan><tspan x="1357" dy="16">+ setValue()</tspan><tspan x="1357" dy="16">+ setValue()</tspan><tspan x="1357" dy="16">+ getOrigin()</tspan><tspan x="1357" dy="16">+ getValue()</tspan><tspan x="1357" dy="16">+ isModified()</tspan></text>
</g>

<g id="n_topicproperty">
<rect class="box" x="984.4" y="3733.3" width="239.4" height="480"/>
<line class="sep" x1="984.4" y1="3761.5" x2="1223.8" y2="3761.5"/><line class="sep" x1="984.4" y1="3916" x2="1223.8" y2="3916"/>
<text x="994" y="3752">org::xmlBlaster::util::qos::TopicProperty</text>
<text><tspan x="996" y="3779.3">- ME</tspan><tspan x="996" dy="16">- global_</tspan><tspan x="996" dy="16">- log_</tspan><tspan x="996" dy="16">- msgUnitStoreProperty_</tspan><tspan x="996" dy="16">- historyQueueProperty_</tspan><tspan x="996" dy="16">- readonly_</tspan><tspan x="996" dy="16">- destroyDelay_</tspan><tspan x="996" dy="16">- destroyDelay_DEFAULT</tspan><tspan x="996" dy="16">- createDomEntry_</tspan></text>
<text><tspan x="996" y="3933">+ TopicProperty()</tspan><tspan x="996" dy="16">+ TopicProperty()</tspan><tspan x="996" dy="16">+ operator=()</tspan><tspan x="996" dy="16">+ ~TopicProperty()</tspan><tspan x="996" dy="16">+ setReadonly()</tspan><tspan x="996" dy="16">+ isReadonly()</tspan><tspan x="996" dy="16">+ getDestroyDelay()</tspan><tspan x="996" dy="16">+ setDestroyDelay()</tspan><tspan x="996" dy="16">+ createDomEntry()</tspan><tspan x="996" dy="16">+ setCreateDomEntry()</tspan><tspan x="996" dy="16">+ hasMsgUnitStoreProperty()</tspan><tspan x="996" dy="16">+ getMsgUnitStoreProperty()</tspan><tspan x="996" dy="16">+ setMsgUnitStoreProperty()</tspan><tspan x="996" dy="16">+ hasHistoryQueueProperty()</tspan><tspan x="996" dy="16">+ getHistoryQueueProperty()</tspan><tspan x="996" dy="16">+ setHistoryQueueProperty()</tspan><tspan x="996" dy="16">+ toXml()</tspan><tspan x="996" dy="16">- copy()</tspan></text>
</g>

<g id="n_msgqosdata">
<rect class="gray" x="988.3" y="4276.7" width="233.4" height="976.8"/>
<line class="sep" x1="988.3" y1="4305" x2="1221.7" y2="4305"/><line class="sep" x1="988.3" y1="4539.5" x2="1221.7" y2="4539.5"/>
<text x="998" y="4296.3">org::xmlBlaster::util::qos::MsgQosData</text>
<text><tspan x="1001" y="4323"># destinationList_</tspan><tspan x="1001" dy="16"># receiveTimestampHumanReadable_</tspan><tspan x="1001" dy="16">- isExpired_</tspan><tspan x="1001" dy="16">- topicProperty_</tspan><tspan x="1001" dy="16">- maxLifeTime_</tspan><tspan x="1001" dy="16">- subscriptionId_</tspan><tspan x="1001" dy="16">- subscribable_</tspan><tspan x="1001" dy="16">- redeliver_</tspan><tspan x="1001" dy="16">- queueIndex_</tspan><tspan x="1001" dy="16">- queueSize_</tspan><tspan x="1001" dy="16">- forceUpdate_</tspan><tspan x="1001" dy="16">- forceDestroy_</tspan><tspan x="1001" dy="16">- lifeTime_</tspan><tspan x="1001" dy="16">- remainingLifeStatic_</tspan></text>
<text><tspan x="1001" y="4556.8">+ MsgQosData()</tspan><tspan x="1001" dy="16">+ MsgQosData()</tspan><tspan x="1001" dy="16">+ operator=()</tspan><tspan x="1001" dy="16">+ ~MsgQosData()</tspan><tspan x="1001" dy="16">+ setSubscribable()</tspan><tspan x="1001" dy="16">+ isSubscribable()</tspan><tspan x="1001" dy="16">+ isPtp()</tspan><tspan x="1001" dy="16">+ setVolatile()</tspan><tspan x="1001" dy="16">+ isVolatile()</tspan><tspan x="1001" dy="16">+ isVolatileDefault()</tspan><tspan x="1001" dy="16">+ setSubscriptionId()</tspan><tspan x="1001" dy="16">+ getSubscriptionId()</tspan><tspan x="1001" dy="16">+ setForceUpdate()</tspan><tspan x="1001" dy="16">+ isForceUpdate()</tspan><tspan x="1001" dy="16">+ setReadonly()</tspan><tspan x="1001" dy="16">+ isReadonly()</tspan><tspan x="1001" dy="16">+ setRedeliver()</tspan><tspan x="1001" dy="16">+ incrRedeliver()</tspan><tspan x="1001" dy="16">+ getRedeliver()</tspan><tspan x="1001" dy="16">+ setQueueSize()</tspan><tspan x="1001" dy="16">+ getQueueSize()</tspan><tspan x="1001" dy="16">+ setQueueIndex()</tspan><tspan x="1001" dy="16">+ getQueueIndex()</tspan><tspan x="1001" dy="16">+ getLifeTime()</tspan><tspan x="1001" dy="16">+ setLifeTime()</tspan><tspan x="1001" dy="16">+ getRemainingLife()</tspan><tspan x="1001" dy="16">+ getRemainingLifeStatic()</tspan><tspan x="1001" dy="16">+ setRemainingLifeStatic()</tspan><tspan x="1001" dy="16">+ isExpired()</tspan><tspan x="1001" dy="16">+ getMaxLifeTime()</tspan><tspan x="1001" dy="16">+ getXmlRcvTimestamp()</tspan><tspan x="1001" dy="16">+ touchRcvTimestamp()</tspan><tspan x="1001" dy="16">+ getDestinations()</tspan><tspan x="1001" dy="16">+ addDestination()</tspan><tspan x="1001" dy="16">+ toXml()</tspan><tspan x="1001" dy="16">+ toXml()</tspan><tspan x="1001" dy="16">+ getClone()</tspan><tspan x="1001" dy="16">+ setTopicProperty()</tspan><tspan x="1001" dy="16">+ getTopicProperty()</tspan><tspan x="1001" dy="16">+ hasTopicProperty()</tspan><tspan x="1001" dy="16">+ setForceDestroy()</tspan><tspan x="1001" dy="16">+ isForceDestroy()</tspan><tspan x="1001" dy="16"># copy()</tspan><tspan x="1001" dy="16">- init()</tspan></text>
</g>
</g>
</svg>
